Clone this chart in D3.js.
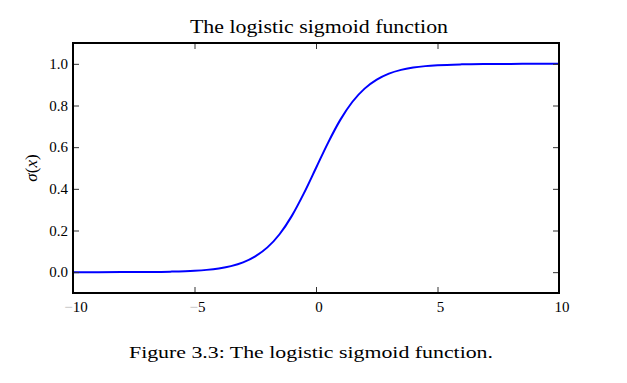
<!DOCTYPE html>
<html><head><meta charset="utf-8">
<script src="https://cdn.jsdelivr.net/npm/d3@7"></script>
<style>body{margin:0;background:#fff}svg{display:block}text{font-family:"Liberation Serif","DejaVu Serif",serif;fill:#000}</style>
</head><body>
<svg id="c" width="627" height="383"></svg>
<script>
const xValues = [-10,-9,-8,-7,-6,-5,-4.5,-4,-3.5,-3,-2.5,-2,-1.5,-1,-0.5,0,0.5,1,1.5,2,2.5,3,3.5,4,4.5,5,6,7,8,9,10];
const yValues = [0.00005,0.00012,0.00034,0.0009,0.0025,0.0067,0.011,0.018,0.029,0.047,0.076,0.119,0.182,0.269,0.378,0.5,0.622,0.731,0.818,0.881,0.924,0.953,0.971,0.982,0.989,0.9933,0.9975,0.9991,0.99966,0.99988,0.99995];
const xTicks = [-10,-5,0,5,10];
const yTicks = [0.0,0.2,0.4,0.6,0.8,1.0];
const title = "The logistic sigmoid function";
const caption = "Figure 3.3: The logistic sigmoid function.";

const svg = d3.select("#c");
const L=73,R=559,T=43,B=293;
const x = d3.scaleLinear().domain([-10,10]).range([L,R]);
const y = d3.scaleLinear().domain([-0.1,1.1]).range([B,T]);

// line
const pts = xValues.map((v,i)=>[v,yValues[i]]);
svg.append("path").datum(pts)
  .attr("d", d3.line().x(d=>x(d[0])).y(d=>y(d[1])).curve(d3.curveMonotoneX))
  .attr("fill","none").attr("stroke","#0000ff").attr("stroke-width",2);

// axes with inward ticks
const tk=6;
svg.append("g").attr("transform",`translate(0,${B})`)
  .call(d3.axisBottom(x).tickValues(xTicks).tickSize(-tk).tickFormat(""))
  .call(g=>g.select(".domain").remove());
svg.append("g").attr("transform",`translate(0,${T})`)
  .call(d3.axisTop(x).tickValues(xTicks).tickSize(-tk).tickFormat(""))
  .call(g=>g.select(".domain").remove());
svg.append("g").attr("transform",`translate(${L},0)`)
  .call(d3.axisLeft(y).tickValues(yTicks).tickSize(-tk).tickFormat(""))
  .call(g=>g.select(".domain").remove());
svg.append("g").attr("transform",`translate(${R},0)`)
  .call(d3.axisRight(y).tickValues(yTicks).tickSize(-tk).tickFormat(""))
  .call(g=>g.select(".domain").remove());
svg.selectAll(".tick line").attr("stroke","#333").attr("stroke-width",1);

// frame
svg.append("rect").attr("x",L).attr("y",T).attr("width",R-L).attr("height",B-T)
  .attr("fill","none").attr("stroke","#000").attr("stroke-width",2);

// tick labels
const xl = svg.selectAll(".xl").data(xTicks).join("text")
  .attr("x",d=>x(d)+3).attr("y",B+19).attr("text-anchor","middle")
  .style("font-size","15px");
xl.each(function(d){
  const t=d3.select(this);
  if(d<0){
    t.append("tspan").attr("fill","#bbb").style("fill","#bbb").text("\u2212");
    t.append("tspan").text(Math.abs(d));
  } else t.text(d);
});
svg.selectAll(".yl").data(yTicks).join("text")
  .attr("x",L-5).attr("y",d=>y(d)+5).attr("text-anchor","end")
  .style("font-size","15px").text(d=>d.toFixed(1));

// title
svg.append("text").attr("x",319).attr("y",33).attr("text-anchor","middle")
  .attr("textLength",258).attr("lengthAdjust","spacingAndGlyphs")
  .style("font-size","18px").text(title);
// y label
svg.append("text").attr("transform",`translate(37,168) rotate(-90)`)
  .attr("text-anchor","middle").style("font-size","17px")
  .html('<tspan font-style="italic">σ</tspan>(<tspan font-style="italic">x</tspan>)');
// caption
svg.append("text").attr("x",311).attr("y",358).attr("text-anchor","middle")
  .attr("textLength",364).attr("lengthAdjust","spacingAndGlyphs")
  .style("font-size","17px").text(caption);
</script>
</body></html>
